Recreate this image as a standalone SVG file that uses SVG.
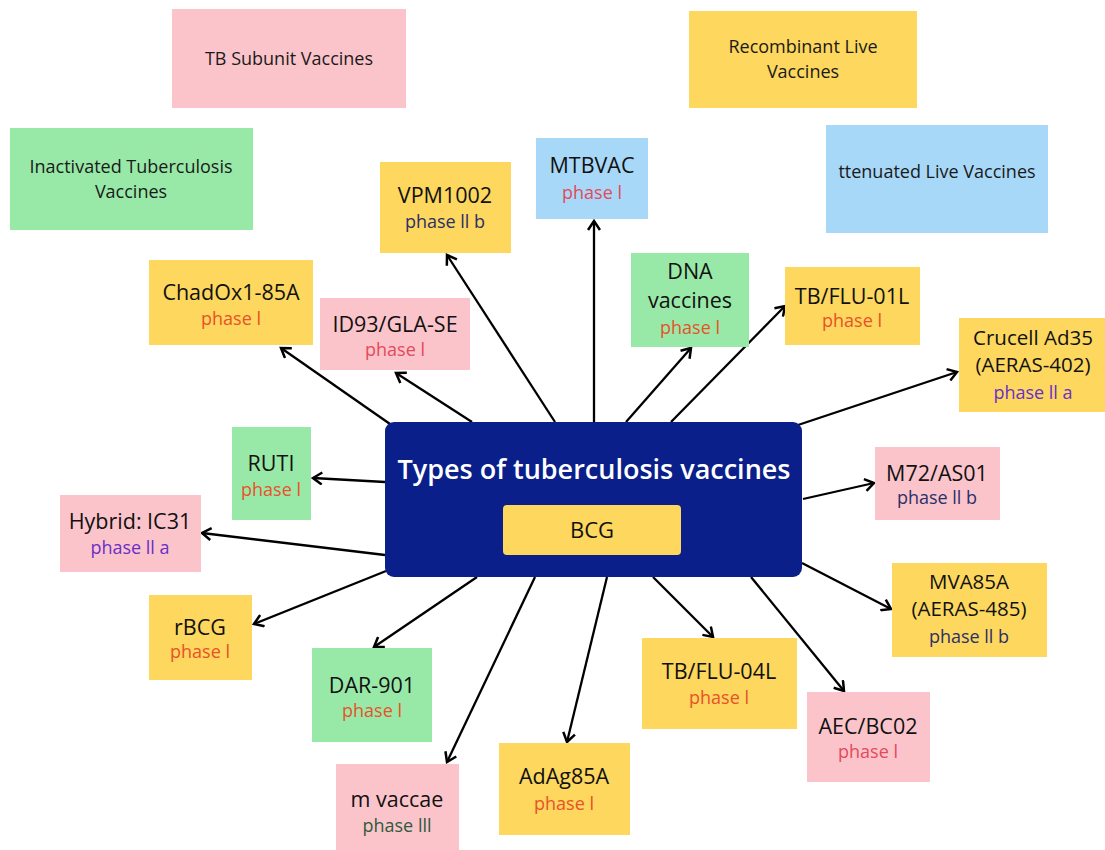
<svg xmlns="http://www.w3.org/2000/svg" width="1105" height="850" viewBox="0 0 1105 850">
<defs>
<marker id="ah" markerWidth="14" markerHeight="14" refX="11" refY="7" orient="auto" markerUnits="userSpaceOnUse">
<path d="M2,1 L11,7 L2,13" fill="none" stroke="#000" stroke-width="2.5" stroke-linejoin="miter"/>
</marker>
<style>
text{font-family:"Open Sans","Liberation Sans",sans-serif;text-anchor:middle}
.y{fill:#fdd75e}.p{fill:#fbc4cb}.g{fill:#98e9a8}.b{fill:#a8d8f8}
.lg{font-size:18px;fill:#1a1a1a;font-weight:500}
.nm{font-size:21.5px;fill:#111;font-weight:500}
.nm3{font-size:20.5px;fill:#111;font-weight:500}
.ph{font-size:18px;font-weight:500}
.r{fill:#e8522a}.rp{fill:#e34a5a}.pu{fill:#6a2fc8}.nv{fill:#2a3068}.dg{fill:#2e5a3c}
.c line{stroke:#000;stroke-width:2.3;marker-end:url(#ah)}
</style>
</defs>
<rect width="1105" height="850" fill="#fff"/>
<g id="legend-subunit"><rect class="p" x="172" y="9" width="234" height="99"/><text class="lg" x="289" y="65">TB Subunit Vaccines</text></g>
<g id="legend-inactivated"><rect class="g" x="10" y="128" width="243" height="102"/><text class="lg" x="131" y="173">Inactivated Tuberculosis</text><text class="lg" x="131" y="198">Vaccines</text></g>
<g id="legend-recombinant"><rect class="y" x="689" y="11" width="228" height="97"/><text class="lg" x="803" y="53">Recombinant Live</text><text class="lg" x="803" y="78">Vaccines</text></g>
<g id="legend-attenuated"><rect class="b" x="826" y="125" width="222" height="108"/><text class="lg" x="937" y="178">ttenuated Live Vaccines</text></g>
<g class="c" id="connectors">
<line x1="390" y1="424" x2="281" y2="348"/>
<line x1="472" y1="422" x2="396" y2="373"/>
<line x1="555" y1="422" x2="447" y2="255"/>
<line x1="594" y1="422" x2="594" y2="221"/>
<line x1="626" y1="422" x2="691" y2="348"/>
<line x1="671" y1="422" x2="785" y2="306"/>
<line x1="792" y1="427" x2="957" y2="372"/>
<line x1="803" y1="499" x2="874" y2="483"/>
<line x1="802" y1="563" x2="891" y2="609"/>
<line x1="751" y1="577" x2="844" y2="691"/>
<line x1="653" y1="577" x2="713" y2="637"/>
<line x1="607" y1="577" x2="567" y2="742"/>
<line x1="535" y1="577" x2="447" y2="762"/>
<line x1="477" y1="577" x2="374" y2="647"/>
<line x1="386" y1="571" x2="254" y2="624"/>
<line x1="385" y1="555" x2="202" y2="533"/>
<line x1="385" y1="482" x2="313" y2="478"/>
</g>
<g id="center"><rect x="385" y="422" width="417" height="155" rx="9" fill="#0a1f8a"/><text x="594" y="479" font-size="27" font-weight="600" fill="#fff">Types of tuberculosis vaccines</text></g>
<g id="bcg"><rect class="y" x="503" y="505" width="178" height="50" rx="4"/><text x="592" y="538" font-size="22" font-weight="500" fill="#111">BCG</text></g>
<g id="vpm1002"><rect class="y" x="380" y="162" width="131" height="91"/><text class="nm" x="445" y="203">VPM1002</text><text class="ph nv" x="445" y="228">phase ll b</text></g>
<g id="mtbvac"><rect class="b" x="536" y="138" width="112" height="81"/><text class="nm" x="592" y="173">MTBVAC</text><text class="ph rp" x="592" y="199">phase l</text></g>
<g id="chadox"><rect class="y" x="149" y="260" width="164" height="85"/><text class="nm" x="231" y="300">ChadOx1-85A</text><text class="ph r" x="231" y="325">phase l</text></g>
<g id="id93"><rect class="p" x="320" y="298" width="150" height="72"/><text class="nm" x="395" y="332">ID93/GLA-SE</text><text class="ph rp" x="395" y="356">phase l</text></g>
<g id="dna"><rect class="g" x="631" y="253" width="118" height="94"/><text class="nm" x="690" y="279">DNA</text><text class="nm" x="690" y="308">vaccines</text><text class="ph r" x="690" y="334">phase l</text></g>
<g id="tbflu01"><rect class="y" x="785" y="267" width="135" height="78"/><text class="nm" x="852" y="304">TB/FLU-01L</text><text class="ph r" x="852" y="327">phase l</text></g>
<g id="crucell"><rect class="y" x="959" y="318" width="146" height="94"/><text class="nm3" x="1033" y="345">Crucell Ad35</text><text class="nm3" x="1033" y="372">(AERAS-402)</text><text class="ph pu" x="1033" y="399">phase ll a</text></g>
<g id="ruti"><rect class="g" x="232" y="427" width="79" height="93"/><text class="nm" x="271" y="471">RUTI</text><text class="ph r" x="271" y="496">phase l</text></g>
<g id="m72"><rect class="p" x="875" y="447" width="125" height="73"/><text class="nm" x="937" y="481">M72/AS01</text><text class="ph nv" x="937" y="504">phase ll b</text></g>
<g id="hybrid"><rect class="p" x="60" y="495" width="141" height="77"/><text class="nm" x="130" y="529">Hybrid: IC31</text><text class="ph pu" x="130" y="554">phase ll a</text></g>
<g id="mva85a"><rect class="y" x="892" y="563" width="155" height="94"/><text class="nm3" x="969" y="589">MVA85A</text><text class="nm3" x="969" y="616">(AERAS-485)</text><text class="ph nv" x="969" y="643">phase ll b</text></g>
<g id="rbcg"><rect class="y" x="149" y="595" width="103" height="85"/><text class="nm" x="200" y="635">rBCG</text><text class="ph r" x="200" y="658">phase l</text></g>
<g id="dar901"><rect class="g" x="312" y="648" width="120" height="94"/><text class="nm" x="372" y="693">DAR-901</text><text class="ph r" x="372" y="717">phase l</text></g>
<g id="tbflu04"><rect class="y" x="642" y="638" width="155" height="91"/><text class="nm" x="719" y="679">TB/FLU-04L</text><text class="ph r" x="719" y="704">phase l</text></g>
<g id="aec"><rect class="p" x="807" y="692" width="123" height="90"/><text class="nm" x="868" y="734">AEC/BC02</text><text class="ph rp" x="868" y="758">phase l</text></g>
<g id="mvaccae"><rect class="p" x="336" y="764" width="123" height="86"/><text class="nm" x="397" y="807">m vaccae</text><text class="ph dg" x="397" y="832">phase lll</text></g>
<g id="adag85a"><rect class="y" x="499" y="743" width="131" height="92"/><text class="nm" x="564" y="784">AdAg85A</text><text class="ph r" x="564" y="810">phase l</text></g>
</svg>
